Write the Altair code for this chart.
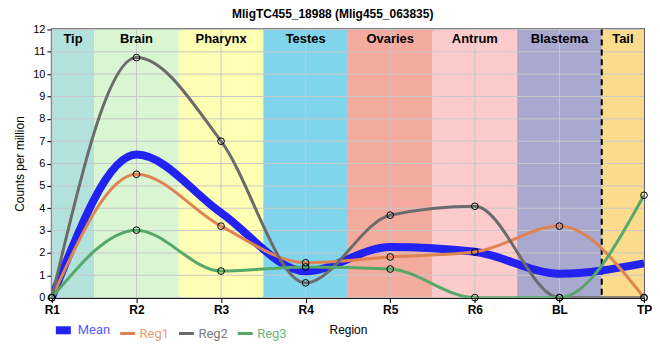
import json
import altair as alt
import pandas as pd

# ---- data ----
x_labels = ["R1", "R2", "R3", "R4", "R5", "R6", "BL", "TP"]
x_pos = [0, 1, 2, 3, 4, 5, 6, 7]
mean_vals = [0.0, 6.4, 3.8, 1.18, 2.27, 2.05, 1.07, 1.53]
reg1_vals = [0.0, 5.52, 3.2, 1.56, 1.82, 2.04, 3.2, 0.0]
reg2_vals = [0.0, 10.74, 7.0, 0.66, 3.69, 4.09, 0.0, 0.0]
reg3_vals = [0.0, 3.02, 1.19, 1.37, 1.28, 0.0, 0.0, 4.58]

series_names = ["Mean", "Reg1", "Reg2", "Reg3"]
series_colors = ["#2222f2", "#dd8452", "#6b6b6b", "#55a868"]
series_widths = [8, 3, 3, 3]
label_colors = ["#5a5aff", "#e8a070", "#7a7a7a", "#6db37d"]

regions = ["Tip", "Brain", "Pharynx", "Testes", "Ovaries", "Antrum", "Blastema", "Tail"]
band_start = [0, 0.5, 1.5, 2.5, 3.5, 4.5, 5.5, 6.5]
band_end = [0.5, 1.5, 2.5, 3.5, 4.5, 5.5, 6.5, 7]
band_colors = ["#b3e2dd", "#d9f5d1", "#ffffb3", "#80d4eb", "#f4aa9c", "#fdcbcc", "#a9a8cf", "#fddb8c"]
divider = [6.5]
y_ticks = list(range(0, 13))

FONT = "Liberation Sans"
W, H = 594, 269

# ---- tables ----
rows = []
for name, vals in zip(series_names, [mean_vals, reg1_vals, reg2_vals, reg3_vals]):
    for x, v in zip(x_pos, vals):
        rows.append({"series": name, "x": x, "value": v})
df = pd.DataFrame(rows)
pts = df[df["series"] != "Mean"]

bands = pd.DataFrame({
    "region": regions, "x0": band_start, "x1": band_end, "fillc": band_colors,
    "mid": [(a + b) / 2 for a, b in zip(band_start, band_end)],
})
ygrid = pd.DataFrame({"y": y_ticks})
xgrid = pd.DataFrame({"x": x_pos})
divdf = pd.DataFrame({"x": divider})

xscale = alt.Scale(domain=[0, 7], nice=False, zero=False)
yscale = alt.Scale(domain=[0, 12], nice=False)

label_expr = json.dumps(x_labels) + "[datum.value]"
xaxis = alt.Axis(values=x_pos, labelExpr=label_expr, title="Region", grid=False,
                 labelOverlap=False, labelFlush=False)
yaxis = alt.Axis(values=y_ticks, title="Counts per million", grid=False,
                 labelOverlap=False, labelFlush=False)

band_layer = alt.Chart(bands).mark_rect(strokeWidth=0).encode(
    x=alt.X("x0:Q", scale=xscale, axis=xaxis),
    x2="x1:Q",
    y=alt.value(0),
    y2=alt.value(H),
    fill=alt.Fill("fillc:N", scale=None, legend=None),
)

ygrid_layer = alt.Chart(ygrid).mark_rule(color="#c8c8c8", strokeWidth=1).encode(
    y=alt.Y("y:Q", scale=yscale, axis=yaxis)
)
xgrid_layer = alt.Chart(xgrid).mark_rule(color="#c8c8c8", strokeWidth=1).encode(
    x=alt.X("x:Q", scale=xscale, axis=xaxis)
)
div_layer = alt.Chart(divdf).mark_rule(color="black", strokeWidth=2, strokeDash=[6, 4]).encode(
    x=alt.X("x:Q", scale=xscale, axis=xaxis)
)
text_layer = alt.Chart(bands).mark_text(font=FONT, fontSize=13, fontWeight="bold",
                                        color="black", baseline="middle").encode(
    x=alt.X("mid:Q", scale=xscale, axis=xaxis),
    y=alt.value(10),
    text="region:N",
)

legend_color_expr = " : ".join(
    f"datum.label == '{n}' ? '{c}'" for n, c in zip(series_names, label_colors)
) + " : 'black'"

legend = alt.Legend(title=None, orient="none", direction="horizontal",
                    legendX=0, legendY=290, symbolType="stroke",
                    symbolSize=225, labelFont="Roboto", labelFontSize=13,
                    labelColor={"expr": legend_color_expr},
                    columnPadding=3, labelOffset=3, padding=0)

line_layer = alt.Chart(df).mark_line(interpolate="monotone", clip=True).encode(
    x=alt.X("x:Q", scale=xscale, axis=xaxis),
    y=alt.Y("value:Q", scale=yscale, axis=yaxis),
    color=alt.Color("series:N", scale=alt.Scale(domain=series_names, range=series_colors),
                    legend=legend),
    strokeWidth=alt.StrokeWidth("series:N",
                                scale=alt.Scale(type="ordinal", domain=series_names, range=series_widths),
                                legend=legend),
    order="x:Q",
)

pt_layer = alt.Chart(pts).mark_point(shape="circle", filled=False, stroke="black",
                                     strokeWidth=1, size=45, opacity=1).encode(
    x=alt.X("x:Q", scale=xscale, axis=xaxis),
    y=alt.Y("value:Q", scale=yscale, axis=yaxis),
)

chart = alt.layer(
    band_layer, ygrid_layer, xgrid_layer, div_layer, text_layer, line_layer, pt_layer
).properties(
    width=W, height=H,
    title=alt.Title("MligTC455_18988 (Mlig455_063835)", font=FONT, fontSize=12,
                    fontWeight="bold", color="black", anchor="middle", frame="bounds", offset=2),
    padding={"left": 5, "top": 0, "right": 0, "bottom": 0},
).configure_view(
    stroke="black", strokeWidth=2
).configure_axisX(
    labelFontWeight="bold", labelFontSize=12, labelFont=FONT,
    labelColor="black", tickColor="black", domainColor="black",
    domainWidth=2, tickWidth=1, tickSize=5, labelPadding=2,
    titleFont=FONT, titleFontSize=12, titleFontWeight="normal",
    titleColor="black", titlePadding=9,
).configure_axisY(
    labelFontSize=11, labelFont=FONT, labelColor="black",
    tickColor="black", domainColor="black", domainWidth=2, tickSize=5,
    titleFont=FONT, titleFontSize=12, titleFontWeight="normal",
    titleColor="black", titlePadding=6,
)

chart.save("out.html", embed_options={"renderer": "svg", "actions": False})
